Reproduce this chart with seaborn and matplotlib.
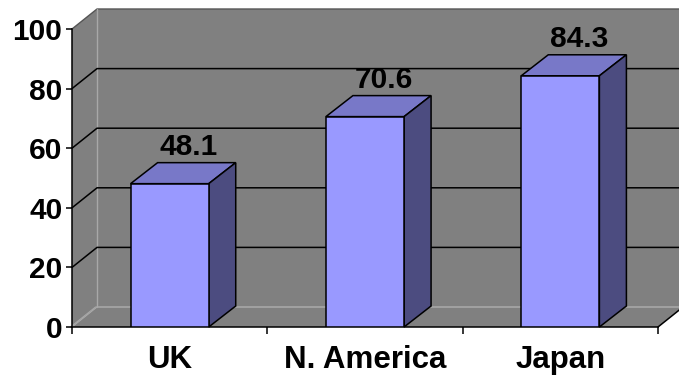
import matplotlib
matplotlib.use("Agg")
import matplotlib.pyplot as plt
from matplotlib.patches import Polygon
from matplotlib.lines import Line2D
from matplotlib.transforms import IdentityTransform
import seaborn as sns
import pandas as pd

regions = ["UK", "N. America", "Japan"]
scores = [48.1, 70.6, 84.3]
y_ticks = [0, 20, 40, 60, 80, 100]

sns.set_theme(style="white")
plt.rcParams["font.family"] = ["Liberation Sans", "DejaVu Sans"]
plt.rcParams["text.color"] = "black"
plt.rcParams["xtick.color"] = "black"
plt.rcParams["ytick.color"] = "black"

W, H = 679, 376
fig = plt.figure(figsize=(W / 100, H / 100), dpi=100)
ax = fig.add_axes([72 / W, 49 / H, 586 / W, 298 / H])

df = pd.DataFrame({"region": regions, "score": scores})
sns.barplot(data=df, x="region", y="score", color="#9999ff", saturation=1,
            width=0.4, edgecolor="black", linewidth=1.1, ax=ax, zorder=3)

ax.set_xlim(-0.5, 2.5)
ax.set_ylim(0, 100)
ax.set_yticks(y_ticks)
ax.set_xlabel("")
ax.set_ylabel("")
ax.patch.set_visible(False)
for side in ("top", "right"):
    ax.spines[side].set_visible(False)
for side in ("left", "bottom"):
    ax.spines[side].set_color("black")
    ax.spines[side].set_linewidth(1.1)

ax.tick_params(axis="y", direction="out", length=4.5, width=1.1, pad=2.5,
               labelsize=21.5, left=True, labelcolor="black")
ax.tick_params(axis="x", which="major", length=0, labelsize=22.5, pad=13,
               labelcolor="black")
ax.set_xticks([-0.5, 0.5, 1.5, 2.5], minor=True)
ax.tick_params(axis="x", which="minor", direction="out", length=5, width=1.1,
               bottom=True)
for lab in ax.get_xticklabels() + ax.get_yticklabels():
    lab.set_fontweight("bold")

# depth offsets in pixels for the walls and the bars
WDX, WDY = 25, 20
BDX, BDY = 27, 21
ident = IdentityTransform()
wall_gray = "#808080"


def disp(x, y):
    return ax.transData.transform((x, y))


def shift(p, dx, dy):
    return (p[0] + dx, p[1] + dy)


x0, x1 = ax.get_xlim()
y0, y1 = ax.get_ylim()
bl, br, tl, tr = disp(x0, y0), disp(x1, y0), disp(x0, y1), disp(x1, y1)

# back wall, side wall and floor
back = [shift(bl, WDX, WDY), shift(br, WDX, WDY), shift(tr, WDX, WDY), shift(tl, WDX, WDY)]
sidewall = [bl, shift(bl, WDX, WDY), shift(tl, WDX, WDY), tl]
floor = [bl, br, shift(br, WDX, WDY), shift(bl, WDX, WDY)]
for verts in (back, sidewall, floor):
    fig.add_artist(Polygon(verts, closed=True, facecolor=wall_gray, edgecolor="none",
                           transform=ident, zorder=-3))

# wall outlines
fig.add_artist(Line2D([tl[0], tl[0] + WDX, tr[0] + WDX], [tl[1], tl[1] + WDY, tr[1] + WDY],
                      color="#555555", lw=1.0, transform=ident, zorder=-2))
fig.add_artist(Line2D([bl[0] + WDX, tl[0] + WDX], [bl[1] + WDY, tl[1] + WDY],
                      color="#a8a8a8", lw=1.0, transform=ident, zorder=-2))
for off in (0, -1.5):
    fig.add_artist(Line2D([bl[0] + off, bl[0] + WDX + off, br[0] + WDX],
                          [bl[1], bl[1] + WDY, br[1] + WDY],
                          color="#a8a8a8", lw=0.8, transform=ident, zorder=-2))
fig.add_artist(Line2D([br[0], br[0] + WDX], [br[1], br[1] + WDY],
                      color="black", lw=1.1, transform=ident, zorder=-1))

# gridlines across the side wall and back wall
for v in y_ticks[1:-1]:
    p = disp(x0, v)
    q = disp(x1, v)
    fig.add_artist(Line2D([p[0], p[0] + WDX, q[0] + WDX], [p[1], p[1] + WDY, q[1] + WDY],
                          color="black", lw=1.1, transform=ident, zorder=-2))

# 3D top and side faces of the bars
for bar in ax.patches:
    bx, by = bar.get_x(), bar.get_y()
    bw, bh = bar.get_width(), bar.get_height()
    ftl, ftr, fbr = disp(bx, by + bh), disp(bx + bw, by + bh), disp(bx + bw, by)
    top = [ftl, ftr, shift(ftr, BDX, BDY), shift(ftl, BDX, BDY)]
    right = [fbr, ftr, shift(ftr, BDX, BDY), shift(fbr, BDX, BDY)]
    fig.add_artist(Polygon(top, closed=True, facecolor="#7878c8", edgecolor="black",
                           lw=1.1, transform=ident, zorder=-0.5))
    fig.add_artist(Polygon(right, closed=True, facecolor="#4c4c80", edgecolor="black",
                           lw=1.1, transform=ident, zorder=-0.5))

# value labels above each bar
for i, v in enumerate(scores):
    ax.annotate(f"{v}", xy=(i, v), xytext=(19, 37), textcoords="offset pixels",
                ha="center", va="center", fontsize=21.5, fontweight="bold",
                color="black", zorder=5)

fig.savefig("out.png", dpi=100)
